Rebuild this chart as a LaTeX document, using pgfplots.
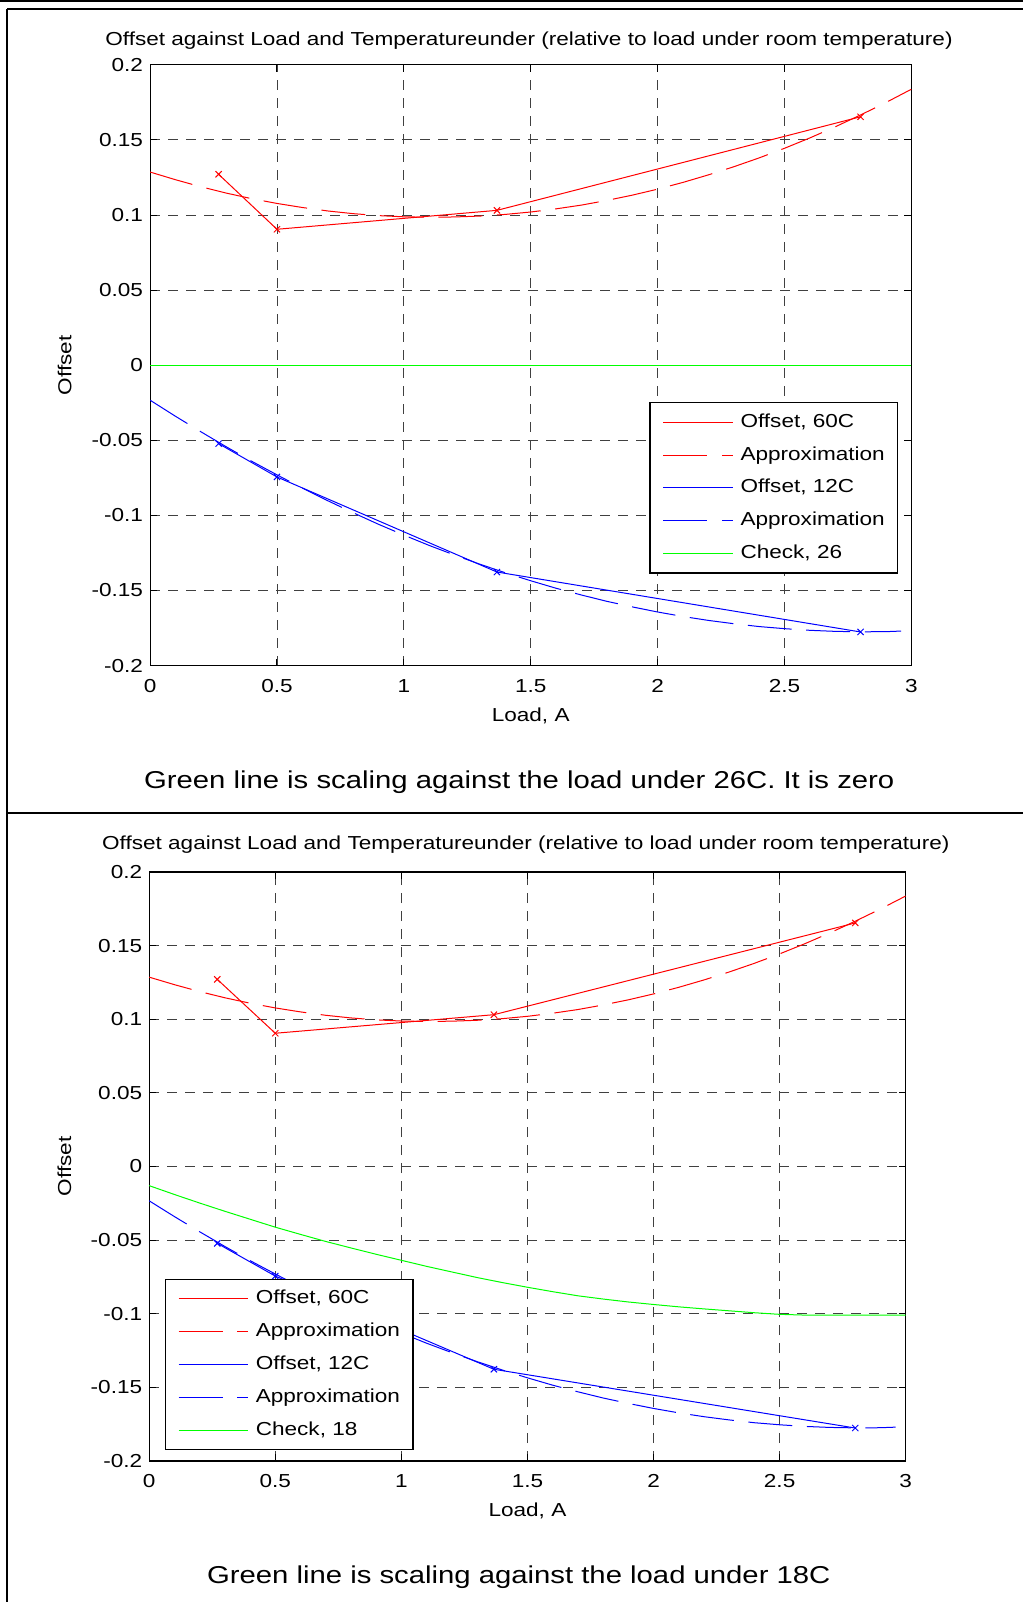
\documentclass[border=0pt]{standalone}
\usepackage{fontspec}
\setmainfont{Liberation Sans}[FakeStretch=1.2]
\usepackage{pgfplots}
\pgfplotsset{compat=1.18}
\usepackage{pgfplotstable}

\pgfplotstableread{
x y
0.0 0.1286
0.1 0.1235
0.2 0.1188
0.3 0.1146
0.4 0.1109
0.5 0.1077
0.6 0.1050
0.7 0.1027
0.8 0.1009
0.9 0.0996
1.0 0.0988
1.1 0.0985
1.2 0.0987
1.3 0.0993
1.4 0.1004
1.5 0.1020
1.6 0.1041
1.7 0.1066
1.8 0.1097
1.9 0.1132
2.0 0.1172
2.1 0.1217
2.2 0.1267
2.3 0.1321
2.4 0.1380
2.5 0.1444
2.6 0.1513
2.7 0.1587
2.8 0.1666
2.9 0.1749
3.0 0.1837
}\redapprox

\pgfplotstableread{
x y
0.0 -0.0233
0.1 -0.0340
0.2 -0.0443
0.3 -0.0543
0.4 -0.0639
0.5 -0.0730
0.6 -0.0818
0.7 -0.0902
0.8 -0.0982
0.9 -0.1059
1.0 -0.1131
1.1 -0.1200
1.2 -0.1264
1.3 -0.1325
1.4 -0.1382
1.5 -0.1435
1.6 -0.1485
1.7 -0.1530
1.8 -0.1572
1.9 -0.1609
2.0 -0.1643
2.1 -0.1673
2.2 -0.1699
2.3 -0.1721
2.4 -0.1740
2.5 -0.1754
2.6 -0.1765
2.7 -0.1772
2.8 -0.1775
2.9 -0.1774
2.96 -0.1770
}\blueapprox

\pgfplotstableread{
x y
0.27 0.1271
0.5 0.0905
1.367 0.1031
2.8 0.1654
}\redoffset

\pgfplotstableread{
x y
0.27 -0.0522
0.5 -0.0744
1.367 -0.1377
2.8 -0.1776
}\blueoffset

\pgfplotstableread{
x y
0.0 -0.0130
0.1 -0.0190
0.2 -0.0248
0.3 -0.0304
0.4 -0.0358
0.5 -0.0412
0.6 -0.0461
0.7 -0.0509
0.8 -0.0553
0.9 -0.0596
1.0 -0.0637
1.1 -0.0678
1.2 -0.0716
1.3 -0.0754
1.4 -0.0788
1.5 -0.0820
1.6 -0.0850
1.7 -0.0878
1.8 -0.0900
1.9 -0.0920
2.0 -0.0937
2.1 -0.0953
2.2 -0.0967
2.3 -0.0980
2.4 -0.0993
2.5 -0.1004
2.6 -0.1009
3.0 -0.1009
}\greencheck

\definecolor{mred}{RGB}{255,0,0}
\definecolor{mblue}{RGB}{0,0,255}
\definecolor{mgreen}{RGB}{0,255,0}

\pgfplotsset{
  mystyle/.style={
    scale only axis,
    xmin=0, xmax=3, ymin=-0.2, ymax=0.2,
    xtick={0,0.5,1,1.5,2,2.5,3},
    xticklabels={0,0.5,1,1.5,2,2.5,3},
    ytick={-0.2,-0.15,-0.1,-0.05,0,0.05,0.1,0.15,0.2},
    yticklabels={-0.2,-0.15,-0.1,-0.05,0,0.05,0.1,0.15,0.2},
    grid=major,
    major grid style={black!75, dash pattern=on 5pt off 4pt, line width=0.45pt},
    axis line style={black, line width=0.6pt},
    tick style={black, line width=0.5pt},
    major tick length=3.5pt,
    tick align=inside,
    ticklabel style={font=\fontsize{9.4}{10}\selectfont},
    xticklabel style={yshift=-3.3pt},
    /pgf/number format/assume math mode=true,
    xlabel={Load, A}, ylabel={Offset},
    label style={font=\fontsize{9.4}{10}\selectfont},
    legend cell align=left,
    legend image code/.code={\draw[#1] (0pt,0pt) -- (34.7pt,0pt);},
    legend style={draw=black, line width=0.6pt, fill=white,
      font=\fontsize{9.4}{11}\selectfont,
      inner xsep=6.5pt, inner ysep=5.3pt,
      nodes={inner sep=0pt, text height=7pt, text depth=2pt},
      row sep=7.4pt, column sep=3.6pt},
  },
  approx/.style={line width=0.5pt, dash pattern=on 22pt off 7.3pt},
  solid line/.style={line width=0.5pt, solid},
  xmarks/.style={only marks, mark=x, mark size=2.2pt, mark options={solid, line width=0.5pt}},
}

\begin{document}
\begin{tikzpicture}
\path[use as bounding box] (0,0) rectangle (511.5pt,-801pt);
\draw[line width=0.9pt] (0,-0.45pt) -- (511.5pt,-0.45pt);
\draw[line width=1pt] (3.5pt,-4.6pt) -- (511.5pt,-4.6pt);
\draw[line width=1pt] (3.5pt,-4.6pt) -- (3.5pt,-801pt);
\draw[line width=1pt] (3.5pt,-406.5pt) -- (511.5pt,-406.5pt);

\begin{axis}[mystyle,
  at={(75.05pt,-32.4pt)}, anchor=north west,
  width=380.6pt, height=300.4pt,
  xlabel style={at={(axis description cs:0.5,-0.0837)}, anchor=center},
  ylabel style={at={(axis description cs:-0.1124,0.5)}, anchor=center},
  legend style={at={(axis description cs:0.983,0.153)}, anchor=south east},
]
\addplot[mred, solid line] table[x=x,y=y] {\redoffset};
\addlegendentry{Offset, 60C}
\addplot[mred, approx] table[x=x,y=y] {\redapprox};
\addlegendentry{Approximation}
\addplot[mblue, solid line] table[x=x,y=y] {\blueoffset};
\addlegendentry{Offset, 12C}
\addplot[mblue, approx] table[x=x,y=y] {\blueapprox};
\addlegendentry{Approximation}
\addplot[mgreen, solid line] coordinates {(0,0) (3,0)};
\addlegendentry{Check, 26}
\addplot[mred, xmarks, forget plot] table[x=x,y=y] {\redoffset};
\addplot[mblue, xmarks, forget plot] table[x=x,y=y] {\blueoffset};
\end{axis}

\node[font=\fontsize{9.4}{10}\selectfont] at (264.5pt,-20.4pt) {Offset against Load and Temperatureunder (relative to load under room temperature)};
\node[font=\fontsize{12.2}{14}\selectfont] at (259.6pt,-390.9pt) {Green line is scaling against the load under 26C. It is zero};

\begin{axis}[mystyle,
  at={(74.6pt,-436pt)}, anchor=north west,
  width=378.25pt, height=294.5pt,
  xlabel style={at={(axis description cs:0.5,-0.0842)}, anchor=center},
  ylabel style={at={(axis description cs:-0.1121,0.5)}, anchor=center},
  legend style={at={(axis description cs:0.0204,0.0183)}, anchor=south west},
]
\addplot[mred, solid line] table[x=x,y=y] {\redoffset};
\addlegendentry{Offset, 60C}
\addplot[mred, approx] table[x=x,y=y] {\redapprox};
\addlegendentry{Approximation}
\addplot[mblue, solid line] table[x=x,y=y] {\blueoffset};
\addlegendentry{Offset, 12C}
\addplot[mblue, approx] table[x=x,y=y] {\blueapprox};
\addlegendentry{Approximation}
\addplot[mgreen, solid line] table[x=x,y=y] {\greencheck};
\addlegendentry{Check, 18}
\addplot[mred, xmarks, forget plot] table[x=x,y=y] {\redoffset};
\addplot[mblue, xmarks, forget plot] table[x=x,y=y] {\blueoffset};
\end{axis}

\node[font=\fontsize{9.4}{10}\selectfont] at (262.9pt,-422.5pt) {Offset against Load and Temperatureunder (relative to load under room temperature)};
\node[font=\fontsize{12.2}{14}\selectfont] at (259.4pt,-788.5pt) {Green line is scaling against the load under 18C};
\end{tikzpicture}
\end{document}
